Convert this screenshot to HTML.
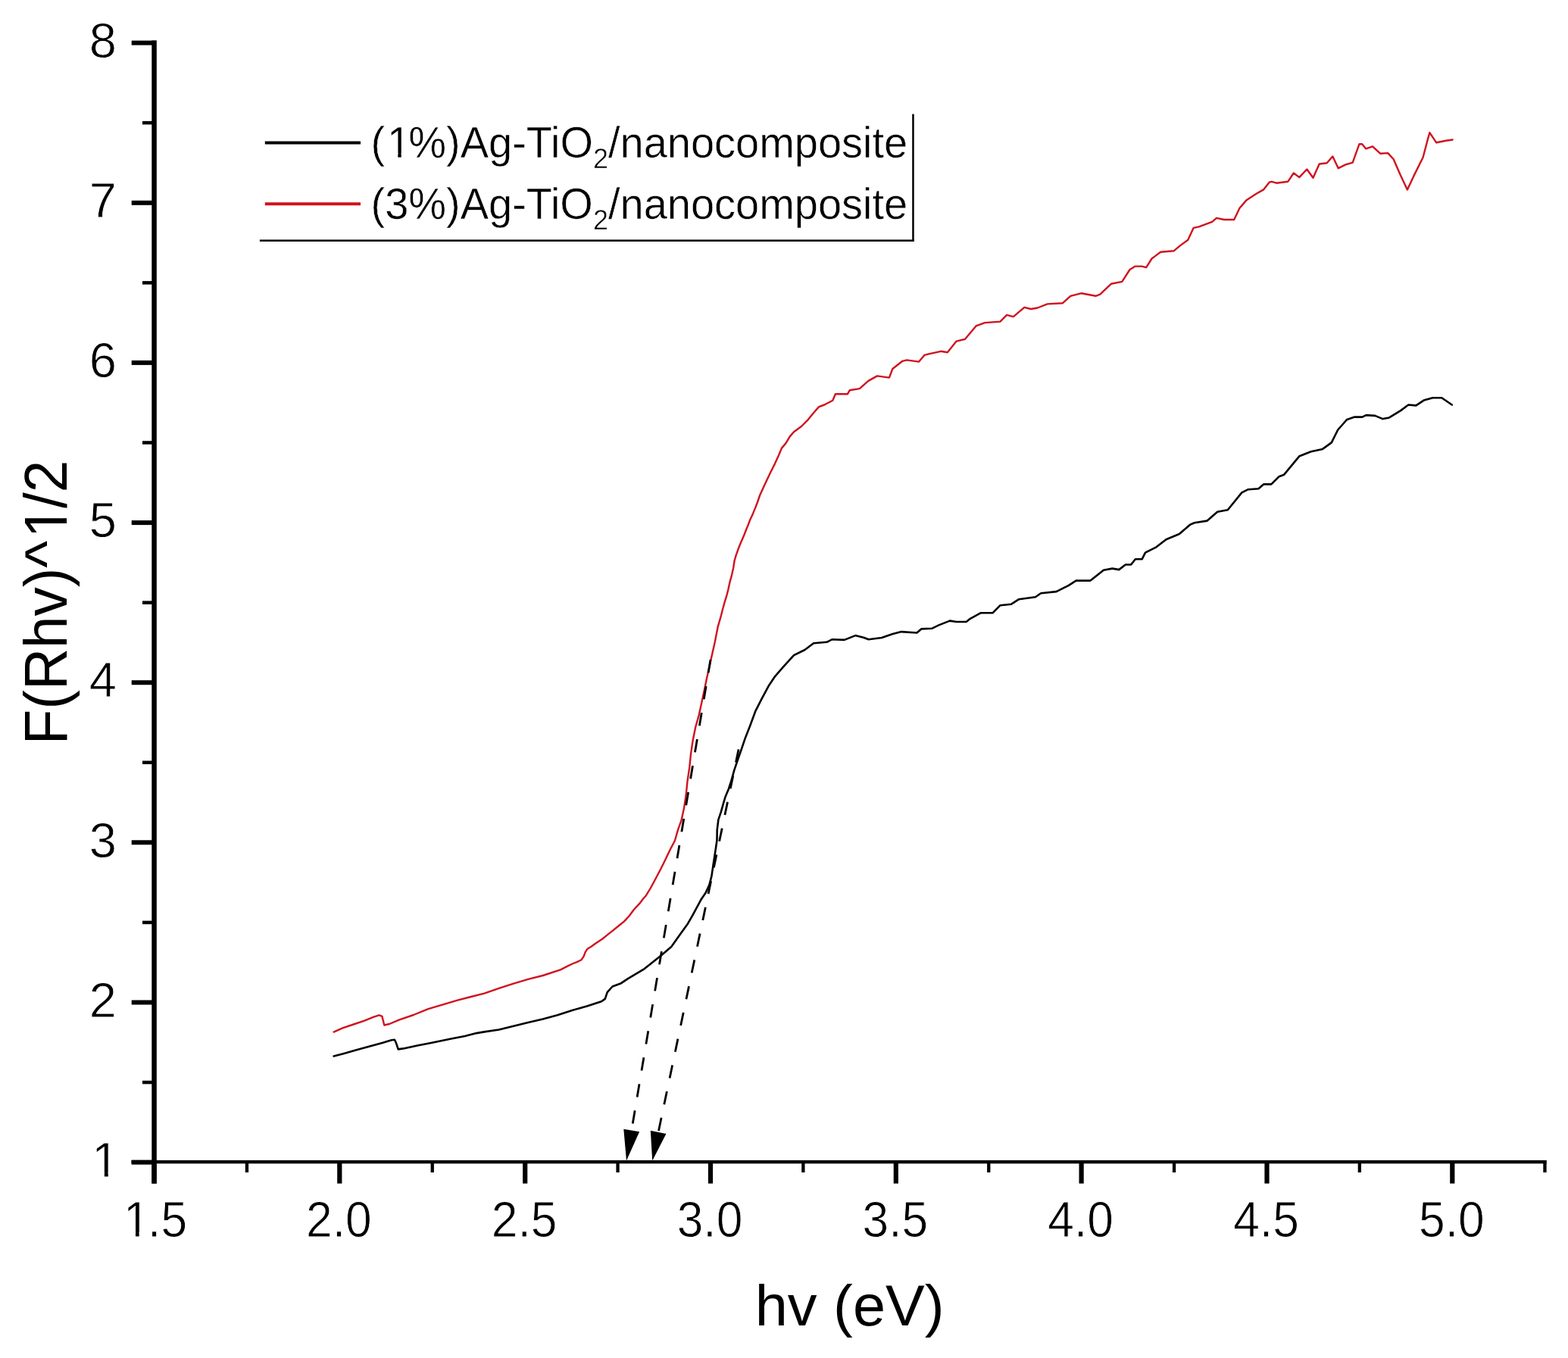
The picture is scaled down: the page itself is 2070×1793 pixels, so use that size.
<!DOCTYPE html><html><head><meta charset="utf-8"><style>html,body{margin:0;padding:0;background:#fff;overflow:hidden;width:2070px;height:1793px;}svg{display:block;}text{font-family:"Liberation Sans",Arial,sans-serif;fill:#000;}.tk{stroke:#fff;stroke-width:0.8px;}.lg{stroke:#fff;stroke-width:0.5px;}</style></head><body>
<svg width="2070" height="1793" viewBox="0 0 2070 1793">
<rect width="2070" height="1793" fill="#fff"/>
<rect x="200.3" y="53.3" width="6.5" height="1509.3" fill="#000"/>
<rect x="173.5" y="1531.9" width="1868.3" height="4.4" fill="#000"/>
<rect x="200.4" y="1535.3" width="6.2" height="27.3" fill="#000"/>
<rect x="445.2" y="1535.3" width="6.2" height="27.3" fill="#000"/>
<rect x="690.1" y="1535.3" width="6.2" height="27.3" fill="#000"/>
<rect x="934.9" y="1535.3" width="6.2" height="27.3" fill="#000"/>
<rect x="1179.7" y="1535.3" width="6.2" height="27.3" fill="#000"/>
<rect x="1424.5" y="1535.3" width="6.2" height="27.3" fill="#000"/>
<rect x="1669.4" y="1535.3" width="6.2" height="27.3" fill="#000"/>
<rect x="1914.2" y="1535.3" width="6.2" height="27.3" fill="#000"/>
<rect x="323.8" y="1535.3" width="4.3" height="12.7" fill="#000"/>
<rect x="568.6" y="1535.3" width="4.3" height="12.7" fill="#000"/>
<rect x="813.4" y="1535.3" width="4.3" height="12.7" fill="#000"/>
<rect x="1058.2" y="1535.3" width="4.3" height="12.7" fill="#000"/>
<rect x="1303.1" y="1535.3" width="4.3" height="12.7" fill="#000"/>
<rect x="1547.9" y="1535.3" width="4.3" height="12.7" fill="#000"/>
<rect x="1792.7" y="1535.3" width="4.3" height="12.7" fill="#000"/>
<rect x="2037.3" y="1535.3" width="4.3" height="12.7" fill="#000"/>
<rect x="173.7" y="1531.6" width="27.6" height="6" fill="#000"/>
<rect x="173.7" y="1320.5" width="27.6" height="6" fill="#000"/>
<rect x="173.7" y="1109.3" width="27.6" height="6" fill="#000"/>
<rect x="173.7" y="898.2" width="27.6" height="6" fill="#000"/>
<rect x="173.7" y="687.1" width="27.6" height="6" fill="#000"/>
<rect x="173.7" y="475.9" width="27.6" height="6" fill="#000"/>
<rect x="173.7" y="264.8" width="27.6" height="6" fill="#000"/>
<rect x="173.7" y="53.6" width="27.6" height="6" fill="#000"/>
<rect x="188" y="1426.8" width="13.3" height="4.5" fill="#000"/>
<rect x="188" y="1215.7" width="13.3" height="4.5" fill="#000"/>
<rect x="188" y="1004.5" width="13.3" height="4.5" fill="#000"/>
<rect x="188" y="793.4" width="13.3" height="4.5" fill="#000"/>
<rect x="188" y="582.2" width="13.3" height="4.5" fill="#000"/>
<rect x="188" y="371.1" width="13.3" height="4.5" fill="#000"/>
<rect x="188" y="159.9" width="13.3" height="4.5" fill="#000"/>
<g transform="translate(154.0 1553.8)"><text font-size="65" text-anchor="end" class="tk"><tspan dx="3.25">1</tspan></text><rect x="-28.96" y="-5.86" width="12.79" height="6.86" fill="#fff"/><rect x="-11.22" y="-5.86" width="12.29" height="6.86" fill="#fff"/></g>
<text transform="translate(154.0 1342.7)" font-size="65" text-anchor="end" class="tk">2</text>
<text transform="translate(154.0 1131.5)" font-size="65" text-anchor="end" class="tk">3</text>
<text transform="translate(154.0 920.4)" font-size="65" text-anchor="end" class="tk">4</text>
<text transform="translate(154.0 709.3)" font-size="65" text-anchor="end" class="tk">5</text>
<text transform="translate(154.0 498.1)" font-size="65" text-anchor="end" class="tk">6</text>
<text transform="translate(154.0 286.9)" font-size="65" text-anchor="end" class="tk">7</text>
<text transform="translate(154.0 75.8)" font-size="65" text-anchor="end" class="tk">8</text>
<g transform="translate(202.5 1633.0) scale(0.99 1.064)"><text font-size="63" text-anchor="middle" class="tk"><tspan dx="2.52">1</tspan><tspan dx="-2.52">.</tspan>5</text><rect x="-36.22" y="-5.71" width="12.44" height="6.71" fill="#fff"/><rect x="-19.01" y="-5.71" width="11.95" height="6.71" fill="#fff"/></g>
<text transform="translate(447.3 1633.0) scale(0.99 1.064)" font-size="63" text-anchor="middle" class="tk">2.0</text>
<text transform="translate(692.2 1633.0) scale(0.99 1.064)" font-size="63" text-anchor="middle" class="tk">2.5</text>
<text transform="translate(937.0 1633.0) scale(0.99 1.064)" font-size="63" text-anchor="middle" class="tk">3.0</text>
<text transform="translate(1181.8 1633.0) scale(0.99 1.064)" font-size="63" text-anchor="middle" class="tk">3.5</text>
<text transform="translate(1426.6 1633.0) scale(0.99 1.064)" font-size="63" text-anchor="middle" class="tk">4.0</text>
<text transform="translate(1671.5 1633.0) scale(0.99 1.064)" font-size="63" text-anchor="middle" class="tk">4.5</text>
<text transform="translate(1916.3 1633.0) scale(0.99 1.064)" font-size="63" text-anchor="middle" class="tk">5.0</text>
<text transform="translate(1121.6 1750.1) scale(1.02 1)" font-size="76" text-anchor="middle">hv (eV)</text>
<g transform="translate(87.6 795.5) rotate(-90) scale(0.949 1)"><text font-size="80.5" text-anchor="middle">F(Rhv)^<tspan dx="4.03">1</tspan><tspan dx="-4.03">/</tspan>2</text><rect x="95.06" y="-7.01" width="15.11" height="8.01" fill="#fff"/><rect x="117.28" y="-7.01" width="14.48" height="8.01" fill="#fff"/></g>
<g transform="translate(489.5 207.5) scale(1 1.03)"><text font-size="56" class="lg">(<tspan dx="2.80">1</tspan><tspan dx="-2.80">%</tspan>)Ag-TiO<tspan font-size="36" dy="13.9">2</tspan><tspan dy="-13.9">/nanocomposite</tspan></text><rect x="24.72" y="-5.18" width="11.07" height="6.18" fill="#fff"/><rect x="40.24" y="-5.18" width="10.63" height="6.18" fill="#fff"/></g>
<text transform="translate(489.5 288.5) scale(1 1.03)" font-size="56" class="lg">(3%)Ag-TiO<tspan font-size="36" dy="13.9">2</tspan><tspan dy="-13.9">/nanocomposite</tspan></text>
<rect x="349.8" y="186.5" width="126.2" height="4" fill="#000"/>
<rect x="349.8" y="267.2" width="126.2" height="4" fill="#d0121e"/>
<rect x="1204.2" y="150.6" width="2.5" height="168" fill="#000"/>
<rect x="342.9" y="316.4" width="863.8" height="2.5" fill="#000"/>
<path d="M440.6 1394.5L453.2 1391.2L470.6 1386.3L488.0 1381.5L505.4 1376.7L517.0 1373.3L520.9 1372.8L522.8 1376.7L525.7 1385.4L532.5 1384.4L550.8 1380.5L570.2 1376.7L594.3 1371.8L613.7 1368.0L629.1 1364.1L639.3 1362.4L658.7 1359.5L678.0 1354.7L697.3 1349.9L716.7 1345.5L736.0 1340.2L755.3 1333.9L774.7 1328.6L794.0 1322.3L798.8 1318.9L801.7 1310.2L808.5 1302.5L820.0 1298.2L829.0 1292.1L850.8 1279.1L872.5 1261.7L886.3 1250.0L892.5 1241.3L900.3 1230.3L908.1 1219.4L914.4 1208.4L919.8 1198.3L925.3 1188.1L931.6 1178.8L936.3 1168.6L939.4 1156.9L941.7 1141.3L944.1 1125.6L946.4 1110.0L946.6 1105.0L946.7 1095.6L948.4 1082.2L951.8 1072.1L955.1 1060.4L957.6 1052.0L961.8 1042.0L965.1 1032.0L969.3 1016.9L974.4 1001.8L979.4 987.6L983.6 975.1L990.3 958.0L997.2 939.2L1006.0 921.8L1014.6 905.8L1023.3 892.8L1033.5 881.2L1048.0 865.2L1062.5 858.0L1074.1 849.3L1091.5 847.8L1098.7 844.2L1114.7 844.9L1129.2 839.1L1140.8 842.0L1146.6 844.2L1164.0 842.0L1178.5 837.0L1190.1 834.1L1210.4 835.5L1216.2 830.4L1230.7 829.7L1239.4 825.4L1253.9 819.6L1262.6 821.0L1275.6 821.0L1280.0 817.4L1294.5 809.3L1310.4 809.3L1320.6 799.2L1335.1 797.7L1345.2 791.2L1367.0 788.3L1374.2 783.2L1394.5 781.1L1410.5 773.1L1420.6 766.6L1439.5 766.6L1456.9 752.8L1468.5 750.6L1477.2 752.1L1485.9 745.5L1493.1 745.5L1498.9 738.3L1507.6 738.3L1512.0 729.6L1526.5 722.3L1539.5 712.2L1556.9 705.0L1571.4 692.6L1576.8 690.2L1593.7 687.6L1607.2 675.8L1620.8 673.3L1639.4 650.4L1647.8 646.2L1661.4 645.3L1668.1 639.4L1678.3 639.4L1688.4 629.3L1695.2 626.7L1715.5 602.2L1730.7 596.3L1746.0 592.9L1757.8 584.4L1766.2 567.5L1778.1 554.0L1788.2 550.6L1798.4 550.6L1803.5 548.1L1815.3 548.9L1825.5 553.1L1833.9 551.4L1849.1 542.1L1859.3 534.5L1869.4 535.4L1879.6 528.6L1891.4 525.2L1903.3 525.2L1916.8 534.5" fill="none" stroke="#000" stroke-width="2.6" stroke-linejoin="round" stroke-linecap="round"/>
<path d="M440.6 1362.6L452.2 1357.3L466.7 1352.5L481.2 1347.7L492.8 1342.8L500.6 1340.4L504.4 1341.9L507.3 1353.5L514.1 1352.0L526.7 1346.7L546.0 1340.0L565.3 1332.2L584.7 1326.4L604.0 1320.6L620.0 1316.5L639.3 1311.7L658.7 1304.9L678.0 1298.6L697.3 1292.8L716.7 1288.0L740.0 1280.3L747.3 1276.7L754.5 1273.0L761.8 1270.1L767.6 1267.2L770.5 1262.9L772.7 1257.1L775.6 1252.7L780.6 1249.8L786.4 1245.5L795.2 1239.7L802.4 1233.9L809.7 1228.1L816.9 1222.2L824.2 1216.4L830.7 1209.2L837.2 1200.5L843.9 1193.4L849.6 1186.0L852.7 1182.7L858.9 1172.5L865.2 1160.8L872.2 1147.5L878.4 1135.0L884.7 1121.7L890.9 1110.0L895.0 1095.7L899.5 1083.2L903.0 1067.1L905.7 1049.3L907.5 1031.4L910.2 1013.6L912.0 995.7L914.6 977.9L918.2 960.0L922.3 945.7L925.9 929.6L929.5 912.7L933.0 895.7L936.6 879.6L940.2 863.6L943.8 847.5L947.6 827.9L951.8 813.3L954.1 804.3L956.6 795.2L959.1 787.2L961.4 778.2L963.6 768.1L966.1 759.1L968.1 750.0L969.6 740.3L971.6 733.3L974.1 726.3L976.6 719.8L979.6 712.7L982.6 705.7L985.1 699.2L987.6 693.2L990.1 686.6L993.2 680.1L995.2 675.1L997.7 669.1L1000.2 662.5L1003.4 653.2L1009.6 639.8L1016.8 624.6L1023.0 612.1L1027.5 602.3L1032.0 591.6L1037.3 585.4L1042.7 576.4L1048.0 570.2L1057.9 563.0L1066.8 554.1L1073.9 545.2L1081.1 537.1L1088.2 534.5L1099.3 528.7L1102.9 520.3L1118.8 520.3L1121.7 515.3L1134.8 513.1L1146.4 502.9L1158.0 496.4L1173.9 498.6L1178.3 487.0L1191.3 476.8L1197.1 475.4L1213.1 477.6L1220.3 468.9L1226.1 467.4L1242.1 463.8L1250.8 465.2L1262.4 450.7L1274.0 447.8L1288.5 430.4L1300.1 426.1L1320.4 424.6L1329.1 415.9L1337.8 418.1L1352.3 405.8L1361.0 408.0L1369.7 406.5L1382.7 401.4L1403.0 400.2L1413.2 390.8L1427.7 387.2L1446.5 390.8L1452.3 388.6L1466.8 374.8L1481.3 371.9L1491.5 356.0L1498.7 351.6L1507.4 351.6L1513.2 353.1L1520.5 341.5L1532.1 332.8L1549.5 331.3L1558.2 324.1L1568.3 316.8L1575.6 300.9L1582.8 299.4L1600.2 292.9L1606.0 287.8L1616.2 290.0L1629.2 290.0L1636.5 274.8L1645.2 264.6L1658.2 256.0L1668.4 250.1L1675.6 240.7L1678.8 239.8L1685.1 241.7L1700.2 239.8L1707.8 228.5L1715.3 234.1L1725.3 223.5L1733.5 234.8L1741.7 216.5L1751.7 215.3L1759.3 206.5L1766.8 222.2L1776.9 217.2L1785.7 214.7L1794.5 190.2L1798.2 190.2L1803.3 196.4L1812.0 193.3L1822.1 202.7L1832.2 202.1L1839.7 210.3L1848.5 230.4L1857.9 250.5L1866.1 232.9L1878.6 207.8L1884.9 183.9L1887.4 175.1L1896.2 188.3L1908.8 185.8L1917.6 184.5" fill="none" stroke="#d0121e" stroke-width="2.4" stroke-linejoin="round" stroke-linecap="round"/>
<path d="M938.0 871.0 L833.4 1494.5" stroke="#000" stroke-width="2.8" stroke-dasharray="17.5 18" stroke-dashoffset="0.0" fill="none"/><path d="M827.0 1532.5L823.3 1490.8L844.1 1494.3Z" fill="#000"/>
<path d="M976.0 985.0 L868.7 1496.8" stroke="#000" stroke-width="2.8" stroke-dasharray="17.5 18" stroke-dashoffset="-4.5" fill="none"/><path d="M861.2 1532.5L858.8 1492.7L879.4 1497.0Z" fill="#000"/>
</svg></body></html>
